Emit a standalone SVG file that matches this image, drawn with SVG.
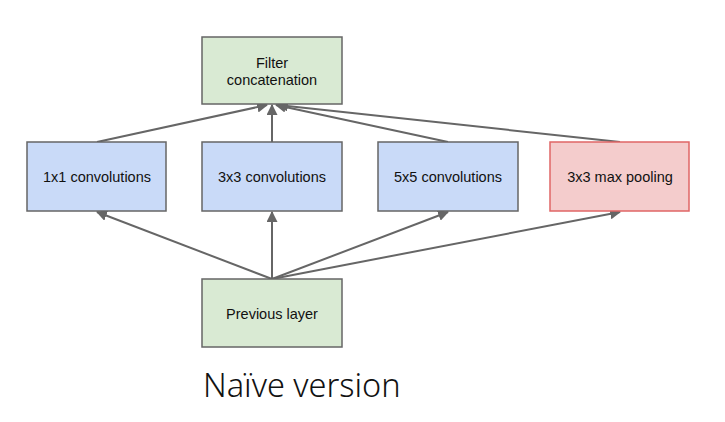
<svg xmlns="http://www.w3.org/2000/svg" width="725" height="422" viewBox="0 0 725 422">
<style>
.box{stroke:#666;stroke-width:1.5}
.green{fill:#d9ead3}
.blue{fill:#c9daf8}
.red{fill:#f4cccc;stroke:#e06666;stroke-width:1.5}
.lbl{font-family:"Liberation Sans",Arial,sans-serif;font-size:14.5px;fill:#111;text-anchor:middle}
.conn line{stroke:#666;stroke-width:2;marker-end:url(#ah)}
.title{font-family:"Noto Sans",sans-serif;font-weight:300;font-size:32.5px;fill:#111}
</style>
<defs>
<marker id="ah" viewBox="0 0 10 10" refX="9" refY="5" markerWidth="5.5" markerHeight="5.5" orient="auto" markerUnits="strokeWidth">
<path d="M0,0 L10,5 L0,10 z" fill="#666"/>
</marker>
</defs>
<rect width="725" height="422" fill="#fff"/>
<g id="connectors" class="conn">
<line x1="97" y1="142" x2="267" y2="105"/>
<line x1="272" y1="142" x2="272" y2="105"/>
<line x1="448" y1="142" x2="276" y2="105"/>
<line x1="620" y1="142" x2="278" y2="105"/>
<line x1="272" y1="279" x2="97" y2="212"/>
<line x1="272" y1="279" x2="272" y2="212"/>
<line x1="272" y1="279" x2="448" y2="212"/>
<line x1="272" y1="279" x2="620" y2="212"/>
</g>
<g id="filter">
<rect class="box green" x="202" y="37" width="140" height="67"/>
<text class="lbl" x="272" y="68">Filter</text>
<text class="lbl" x="272" y="85">concatenation</text>
</g>
<g id="conv1">
<rect class="box blue" x="27" y="142" width="139" height="69"/>
<text class="lbl" x="97" y="182">1x1 convolutions</text>
</g>
<g id="conv3">
<rect class="box blue" x="202" y="142" width="140" height="69"/>
<text class="lbl" x="272" y="182">3x3 convolutions</text>
</g>
<g id="conv5">
<rect class="box blue" x="378" y="142" width="140" height="69"/>
<text class="lbl" x="448" y="182">5x5 convolutions</text>
</g>
<g id="pool">
<rect class="red" x="550" y="142" width="139" height="69"/>
<text class="lbl" x="620" y="182">3x3 max pooling</text>
</g>
<g id="prev">
<rect class="box green" x="202" y="279" width="140" height="68"/>
<text class="lbl" x="272" y="319">Previous layer</text>
</g>
<text class="title" x="203" y="397">Naïve version</text>
</svg>
